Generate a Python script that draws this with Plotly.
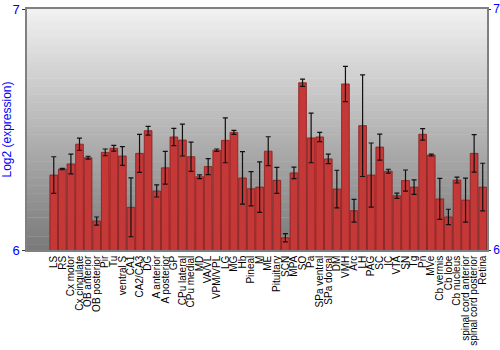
import plotly.graph_objects as go

categories = ["LS", "RS", "Cx motor", "Cx cingulate", "OB anterior", "OB posterior", "Pir", "Tu",
              "ventral S", "CA1", "CA2/CA3", "DG", "A anterior", "A posterior", "GP", "CPu lateral",
              "CPu medial", "MD", "VA/VL", "VPM/VPL", "LG", "MG", "Hb", "Pineal", "M", "ME",
              "Pituitary", "SCN", "MPA", "SO", "Pa", "SPa ventral", "SPa dorsal", "DM", "VMH", "Arc",
              "LH", "PAG", "SC", "IC", "VTA", "SN", "Tg", "Pn", "MVe", "Cb vermis", "Cb lobe",
              "Cb nucleus", "spinal cord anterior", "spinal cord posterior", "Retina"]

values = [6.311, 6.336, 6.357, 6.439, 6.383, 6.120, 6.405, 6.422,
          6.390, 6.177, 6.401, 6.495, 6.245, 6.341, 6.469, 6.456,
          6.387, 6.304, 6.346, 6.414, 6.455, 6.488, 6.299, 6.254, 6.261, 6.410,
          6.289, 6.051, 6.320, 6.694, 6.465, 6.469, 6.378, 6.253, 6.689, 6.163,
          6.516, 6.311, 6.427, 6.327, 6.225, 6.288, 6.261, 6.480, 6.394, 6.212, 6.137,
          6.290, 6.207, 6.401, 6.261]

errors = [0.076, 0.003, 0.041, 0.025, 0.006, 0.017, 0.014, 0.012,
          0.039, 0.122, 0.079, 0.018, 0.025, 0.068, 0.036, 0.066,
          0.061, 0.008, 0.033, 0.005, 0.093, 0.008, 0.109, 0.071, 0.105, 0.060,
          0.054, 0.017, 0.024, 0.015, 0.103, 0.019, 0.020, 0.078, 0.073, 0.047,
          0.211, 0.133, 0.054, 0.008, 0.011, 0.044, 0.030, 0.024, 0.004, 0.085, 0.032,
          0.012, 0.091, 0.078, 0.099]

y_range = [6, 7]
y_ticks = [6, 7]

fig = go.Figure()

fig.add_trace(go.Bar(
    x=categories, y=values,
    base=0,
    marker=dict(color="#c43838", line=dict(color="#8a1c1c", width=0.8)),
    error_y=dict(type="data", array=errors, visible=True, color="#111111", thickness=1.2, width=2.5),
    showlegend=False,
))
# invisible trace for right axis
fig.add_trace(go.Scatter(x=[categories[0]], y=[6.5], yaxis="y2", mode="markers",
                         marker=dict(opacity=0), showlegend=False, hoverinfo="skip"))

# vertical gradient background
n = 90
shapes = []
for i in range(n):
    t = i / (n - 1)
    c = int(round(241 - t * (241 - 122)))
    shapes.append(dict(type="rect", xref="paper", yref="paper",
                       x0=0, x1=1, y0=1 - (i + 1) / n, y1=1 - i / n + 0.002,
                       fillcolor=f"rgb({c},{c},{c})", line=dict(width=0), layer="below"))

fig.update_layout(
    width=500, height=350,
    margin=dict(l=27, r=13, t=9, b=100),
    paper_bgcolor="white", plot_bgcolor="rgba(0,0,0,0)",
    bargap=0.1,
    shapes=shapes,
    font=dict(family="Liberation Sans, Arial, sans-serif"),
    xaxis=dict(tickangle=-90, tickfont=dict(size=10, color="black"),
               tickmode="array", tickvals=categories, ticktext=categories,
               showline=True, linecolor="#808080", linewidth=1.5, mirror=True,
               ticks="", showgrid=False, automargin=False),
    yaxis=dict(range=y_range, tickvals=y_ticks, tickfont=dict(size=13, color="#0000ff"),
               ticks="outside", ticklen=3, tickcolor="#333333", automargin=False,
               showline=True, linecolor="#808080", linewidth=1.5, showgrid=False, zeroline=False,
               title=dict(text="Log2 (expression)", font=dict(size=12, color="#0000ff"), standoff=0)),
    yaxis2=dict(range=y_range, tickvals=y_ticks, overlaying="y", side="right", automargin=False,
                tickfont=dict(size=12, color="#0000ff"), ticks="outside", ticklen=2, tickcolor="#333333",
                showline=True, linecolor="#808080", linewidth=1.5, showgrid=False, zeroline=False),
)

fig.write_html("out.html")
